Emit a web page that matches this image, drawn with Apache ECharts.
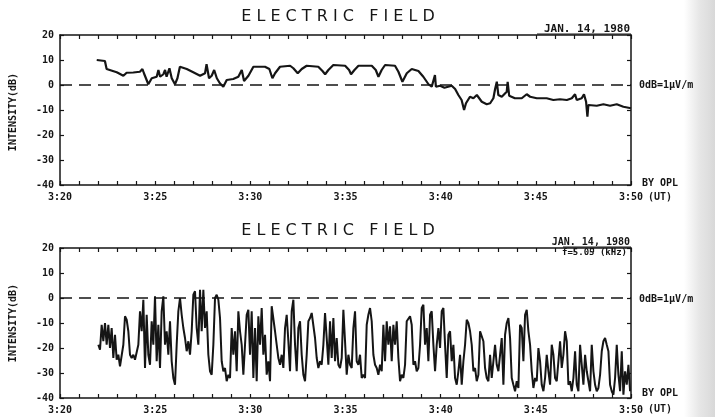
<!DOCTYPE html>
<html>
<head>
<meta charset="utf-8">
<script src="https://cdn.jsdelivr.net/npm/echarts@6/dist/echarts.min.js"></script>
<style>
  html, body { margin: 0; padding: 0; background: #ffffff; }
  #chart { width: 715px; height: 417px; }
</style>
</head>
<body>
<div id="chart"></div>
<script>
// ---- data (minutes after 3:20 UT, intensity in dB) ----
const titleText = 'ELECTRIC FIELD';
const dateText = 'JAN. 14, 1980';
const freqText = 'f=5.05 (kHz)';
const refText = '0dB=1\u03bcV/m';
const creditText = 'BY OPL';
const xTickLabels = ['3:20', '3:25', '3:30', '3:35', '3:40', '3:45', '3:50'];
const yTicks = [20, 10, 0, -10, -20, -30, -40];

const topTimes = [1.93, 2.36, 2.45, 2.54, 2.98, 3.33, 3.5, 3.85, 4.2, 4.33, 4.41, 4.64, 4.82, 5.08, 5.17, 5.26, 5.43, 5.52, 5.6, 5.75, 5.87, 6.04, 6.17, 6.3, 6.66, 7.0, 7.36, 7.62, 7.7, 7.83, 7.97, 8.1, 8.24, 8.4, 8.58, 8.76, 9.1, 9.37, 9.55, 9.67, 9.9, 10.16, 10.77, 11.0, 11.16, 11.3, 11.56, 12.09, 12.26, 12.49, 12.7, 12.96, 13.57, 13.79, 13.93, 14.1, 14.36, 14.98, 15.19, 15.29, 15.47, 15.68, 16.38, 16.59, 16.73, 16.9, 17.08, 17.6, 17.78, 17.99, 18.22, 18.48, 18.83, 19.09, 19.36, 19.53, 19.7, 19.75, 19.97, 20.2, 20.58, 20.76, 20.93, 21.1, 21.23, 21.33, 21.54, 21.72, 21.9, 22.16, 22.42, 22.6, 22.77, 22.86, 22.95, 23.03, 23.21, 23.47, 23.52, 23.6, 23.9, 24.26, 24.52, 24.7, 25.05, 25.57, 25.92, 26.27, 26.63, 26.89, 27.06, 27.15, 27.41, 27.53, 27.64, 27.71, 27.76, 28.2, 28.55, 28.9, 29.25, 29.6, 30];
const topValues = [10, 9.6, 6.4, 6, 5.1, 3.7, 4.9, 5, 5.3, 6.4, 4.7, 0.3, 2.7, 3.3, 6, 3.3, 4.3, 6, 3.3, 6.7, 2.7, 0.3, 2.7, 7.3, 6.4, 5.1, 3.7, 4.7, 8.3, 2.7, 3.7, 6, 2.7, 0.7, -0.7, 2, 2.4, 3.3, 6, 1.6, 3.7, 7.3, 7.3, 6.4, 2.7, 4.7, 7.3, 7.7, 6.7, 4.7, 6.4, 7.7, 7.3, 5.6, 4.3, 6, 8, 7.7, 6, 4.3, 6, 7.7, 7.7, 6, 3.3, 6, 8, 7.7, 5.3, 1.3, 4.7, 6.4, 5.6, 3.3, 0.3, -0.7, 4, -0.7, -0.3, -1.1, -0.3, -1.6, -4, -6, -10, -7.3, -4.7, -5.3, -4, -6.7, -7.7, -7.3, -5.3, -1.6, 1.3, -4, -4.7, -2.7, 1.3, -4.3, -5.3, -5.3, -3.7, -4.7, -5.3, -5.3, -6, -5.7, -6, -5.3, -3.7, -6, -5.3, -3.7, -6.7, -12.7, -8, -8.3, -7.7, -8.3, -7.7, -8.7, -9.3];

// lower panel: f = 5.05 kHz, regularly sampled record
const bottomStart = 2.014;
const bottomStep = 0.08758;
const bottomValues = [
  -18.7, -20.7, -10.7, -17.3, -10, -18.7, -10.7, -20, -12, -24, -14.7, -24.7, -22.7, -27.3, -28, -18.7, -7.3, -8.7, -13.3, -22.7, -24, -22.7, -24.7, -24, -18.7, -5.3, -13.3,
  -0.7, -28, -6.7, -22.7, -26.7, -9.3, -18.7, 0.7, -25.3, -10.7, -28, -5.3, 0.7, -18.7, -13.3, -22.7, -9.3, -25.3, -32, -34.7, -18.7, -5.3, 0, -6.7, -12, -16, -21.3, -17.3, -22.7, -13.3, 1.3, 2.7, -12, -18.7, 3.3, -13.3, 3.3, -12, -5.3, -22.7, -29.3, -30.7, -18.7, 0, 1.3, -0.7, -8, -25.3, -29.3, -28, -33.3, -30.7,
  -32, -12, -22.7, -13.3, -29.3, -5.3, -13.3, -18.7, -30.7, -30.7, -6.7, -4.7, -22.7, -5.3, -32, -12, -33.3, -7.3, -18.7, -4, -22.7, -14.7, -30.7, -25.3, -33.3, -3.3, -2.7, -13.3, -18.7, -24, -26.7, -22.7, -28, -12, -6.7, -17.3, -29.3, -5.3, -0.7, -18.7, -29.3, -12, -9.3, -22.7, -30.7, -33.3, -22.7, -9.3, -8, -6, -6.7, -16, -24, -28, -25.3, -26.7, -18.7, -6, -16, -26.7, -9.3, -24, -8, -25.3, -16, -26.7, -28, -24, -4.7, -17.3, -30.7, -22.7, -26.7, -28, -12, -5.3, -25.3, -26.7, -22.7, -32, -30.7,
  -32, -10.7, -6.7, -4, -9.3, -22.7, -26.7, -28, -30.7, -26.7, -29.3, -10.7, -25.3, -9.3, -18.7, -11.3, -25.3, -10.7, -18.7, -9.3, -24, -33.3, -30.7, -32, -26.7, -9.3, -8.7, -7.3, -10.7, -26.7, -25.3, -29.3, -28, -18.7, -4, -2.7, -18.7, -12, -25.3, -6.7, -5.3, -18.7, -29.3, -18.7, -12, -20, -5.3, -4, -18.7, -32, -14.7, -13.3, -25.3, -18.7, -32, -34.7, -29.3, -22.7, -34.7, -25.3, -18.7, -8.7, -10, -13.3, -18.7, -29.3, -28, -33.3, -30.7, -13.3, -14, -17.3, -28, -32, -33.3, -22.7, -32, -25.3, -18.7, -26.7, -29.3,
  -22.7, -16, -34.7, -14.7, -10, -8, -16, -32, -34.7, -37.3, -33.3, -36, -10.7, -12, -25.3, -6.7, -4.7, -13.3, -18.7, -29.3, -36, -32, -33.3, -20, -25.3, -34.7, -37.3, -32, -22.7, -29.3, -34.7, -18.7, -22.7, -32, -33.3, -25.3, -17.3, -28, -22.7, -13.3, -17.3, -34.7, -33.3, -37.3, -32, -21.3, -34.7, -37.3, -18.7, -26.7, -34.7, -22.7, -29.3, -33.3, -37.3, -18.7, -29.3, -34.7, -37.3, -36, -30.7, -21.3, -17.3, -16, -18.7, -21.3, -34.7, -37.3, -38.7, -32, -18.7, -30.7, -37.3, -21.3, -38.7, -29.3, -34.7, -26.7, -37.3
];

// ---- build ----
const INK = '#151515';
const MONO = '"DejaVu Sans Mono", monospace';
const topData = topTimes.map((t, i) => [t, topValues[i]]);
const bottomData = bottomValues.map((v, i) => [bottomStart + i * bottomStep, v]);

const GRID_L = 60, GRID_W = 571, GRID_H = 150;
const grids = [
  { left: GRID_L, top: 35, width: GRID_W, height: GRID_H },
  { left: GRID_L, top: 248, width: GRID_W, height: GRID_H }
];

function xAxisPair(gi) {
  const base = {
    type: 'value', gridIndex: gi, min: 0, max: 30, interval: 1,
    axisLine: { show: true, onZero: false, lineStyle: { color: INK, width: 1.5 } },
    axisTick: { show: true, inside: true, length: 4, lineStyle: { color: INK, width: 1.2 } },
    splitLine: { show: false }
  };
  return [
    Object.assign({}, base, {
      position: 'bottom',
      axisLabel: {
        show: true, margin: 7, color: INK, fontFamily: MONO, fontSize: 10, fontWeight: 'bold',
        showMinLabel: true, showMaxLabel: true,
        formatter: v => (Math.round(v) % 5 === 0 ? xTickLabels[Math.round(v) / 5] : '')
      }
    }),
    Object.assign({}, base, { position: 'top', axisLabel: { show: false } })
  ];
}
function yAxisPair(gi) {
  const base = {
    type: 'value', gridIndex: gi, min: -40, max: 20, interval: 10,
    axisLine: { show: true, onZero: false, lineStyle: { color: INK, width: 1.5 } },
    axisTick: { show: true, inside: true, length: 4, lineStyle: { color: INK, width: 1.2 } },
    splitLine: { show: false }
  };
  return [
    Object.assign({}, base, {
      position: 'left',
      axisLabel: { show: true, margin: 6, color: INK, fontFamily: MONO, fontSize: 10, fontWeight: 'bold',
        formatter: v => (yTicks.indexOf(v) >= 0 ? String(v) : '') }
    }),
    Object.assign({}, base, { position: 'right', axisLabel: { show: false } })
  ];
}

const zeroLine = {
  silent: true, symbol: ['none', 'none'], label: { show: false },
  lineStyle: { color: INK, type: [12, 7], width: 1.5 },
  data: [{ yAxis: 0 }]
};

const spacedTitle = titleText.split(' ').map(w => w.split('').join(' ')).join('   ');

const graphics = [
  // scanned paper edge shading on the right
  { type: 'rect', silent: true, z: -10, shape: { x: 684, y: 0, width: 31, height: 417 },
    style: { fill: new echarts.graphic.LinearGradient(0, 0, 1, 0, [
      { offset: 0, color: 'rgba(200,200,200,0)' }, { offset: 0.5, color: 'rgba(200,200,200,0.45)' }, { offset: 1, color: 'rgba(190,190,190,0.6)' }]) } }
];
[[17, 85, 183, 197, 29, 112, 11], [231, 299, 393, 409, 242, 323, 10]].forEach((p, k) => {
  const [ty, zy, by, uy, dy, ny, ds] = p;
  graphics.push({ type: 'text', x: 338, y: ty, silent: true,
    style: { text: spacedTitle, fill: INK, font: 'normal 16px "DejaVu Sans"', textAlign: 'center', textVerticalAlign: 'middle' } });
  graphics.push({ type: 'text', x: 630, y: dy, silent: true,
    style: { text: dateText, fill: INK, font: 'bold ' + ds + 'px ' + MONO, textAlign: 'right', textVerticalAlign: 'middle' } });
  graphics.push({ type: 'line', silent: true, shape: { x1: k === 0 ? 537 : 563, y1: dy + 5, x2: 631, y2: dy + 5 }, style: { stroke: INK, lineWidth: 1 } });
  graphics.push({ type: 'text', x: 639, y: zy, silent: true,
    style: { text: refText, fill: INK, font: 'bold 10px ' + MONO, textAlign: 'left', textVerticalAlign: 'middle' } });
  graphics.push({ type: 'text', x: 642, y: by, silent: true,
    style: { text: creditText, fill: INK, font: 'bold 10px ' + MONO, textAlign: 'left', textVerticalAlign: 'middle' } });
  graphics.push({ type: 'text', x: 648, y: uy, silent: true,
    style: { text: '(UT)', fill: INK, font: 'bold 10px ' + MONO, textAlign: 'left', textVerticalAlign: 'middle' } });
  graphics.push({ type: 'text', x: 13, y: ny, rotation: Math.PI / 2, silent: true,
    style: { text: 'INTENSITY(dB)', fill: INK, font: 'bold 10px ' + MONO, textAlign: 'center', textVerticalAlign: 'middle' } });
  if (k === 1) {
    graphics.push({ type: 'text', x: 627, y: 253, silent: true,
      style: { text: freqText, fill: INK, font: 'bold 9px ' + MONO, textAlign: 'right', textVerticalAlign: 'middle' } });
  }
});

const chart = echarts.init(document.getElementById('chart'), null, { renderer: 'canvas' });
chart.setOption({
  backgroundColor: '#ffffff',
  animation: false,
  grid: grids,
  xAxis: [].concat(xAxisPair(0), xAxisPair(1)),
  yAxis: [].concat(yAxisPair(0), yAxisPair(1)),
  series: [
    { type: 'line', xAxisIndex: 0, yAxisIndex: 0, data: topData, symbol: 'none',
      lineStyle: { color: INK, width: 2.2 }, markLine: zeroLine },
    { type: 'line', xAxisIndex: 2, yAxisIndex: 2, data: bottomData, symbol: 'none',
      lineStyle: { color: INK, width: 2 }, markLine: zeroLine }
  ],
  graphic: graphics
});
</script>
</body>
</html>
